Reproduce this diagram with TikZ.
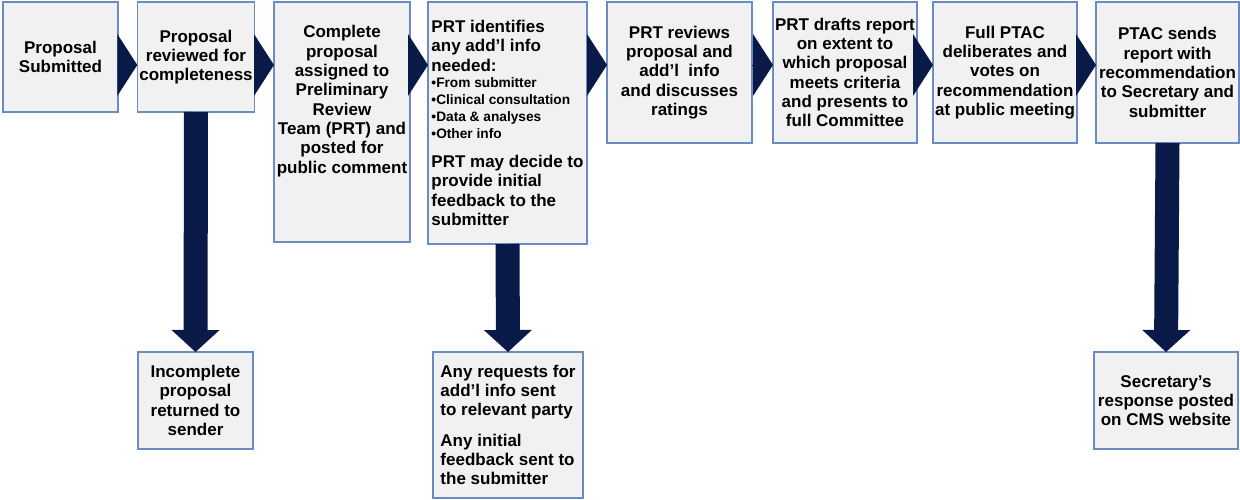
\documentclass[tikz,border=0pt]{standalone}
\usepackage{fontspec}
\setmainfont{Liberation Sans}
\usetikzlibrary{arrows.meta}
\definecolor{navy}{HTML}{0A1A48}
\definecolor{boxline}{HTML}{6A8CC0}
\definecolor{boxfill}{HTML}{F1F1F1}
\newcommand{\bul}[1]{{\fontsize{13.7}{16.7}\selectfont\textbullet#1}}
\tikzset{
  stepbox/.style={draw=boxline, fill=boxfill, line width=1.4pt, inner xsep=2pt,
    inner ysep=4pt, outer sep=0pt, align=center,
    font=\bfseries\fontsize{17}{19.3}\selectfont},
  chevron/.style={navy, line width=0.1pt,
    -{Triangle[length=20pt,width=62pt,line width'=0pt]}},
  downarrow/.style={navy, line width=24pt,
    -{Triangle[length=22pt,width=48pt,line width'=0pt]}}
}
\begin{document}
\begin{tikzpicture}[x=1pt,y=-1pt]
  \useasboundingbox (0,0) rectangle (1240,499);
  % top row
  \node[stepbox, minimum width=115pt, minimum height=110pt] (b1) at (60.5,57)
    {Proposal\\Submitted};
  \node[stepbox, minimum width=116pt, minimum height=110pt] (b2) at (196,57)
    {Proposal\\reviewed for\\completeness};
  \node[stepbox, minimum width=136pt, minimum height=240pt] (b3) at (342,122)
    {Complete\\proposal\\assigned to\\Preliminary\\Review\\Team (PRT) and\\posted for\\public comment\\[26pt]\mbox{}};
  \node[stepbox, align=left, minimum width=159pt, minimum height=242pt] (b4) at (507.5,123)
    {PRT identifies\\any add’l info\\needed:\\[-2.5pt]
     \bul{From submitter}\\[-2.5pt]
     \bul{Clinical consultation}\\[-2.5pt]
     \bul{Data \& analyses}\\[-2.5pt]
     \bul{Other info}\\[10pt]
     PRT may decide to\\provide initial\\feedback to the\\submitter};
  \node[stepbox, minimum width=145pt, minimum height=141pt] (b5) at (679.5,72.5)
    {PRT reviews\\proposal and\\add’l\ \ info\\and discusses\\ratings};
  \node[stepbox, minimum width=144pt, minimum height=141pt] (b6) at (845,72.5)
    {PRT drafts report\\on extent to\\which proposal\\meets criteria\\and presents to\\full Committee};
  \node[stepbox, minimum width=144pt, minimum height=141pt] (b7) at (1005,72.5)
    {Full PTAC\\deliberates and\\votes on\\recommendation\\at public meeting};
  \node[stepbox, minimum width=143pt, minimum height=141pt] (b8) at (1167.5,72.5)
    {PTAC sends\\report with\\recommendation\\to Secretary and\\submitter};
  % bottom row
  \node[stepbox, minimum width=115pt, minimum height=97pt] (b9) at (195.5,400.5)
    {Incomplete\\proposal\\returned to\\sender};
  \node[stepbox, align=left, minimum width=150pt, minimum height=146pt] (b10) at (508,425)
    {Any requests for\\add’l info sent\\to relevant party\\[11pt]
     Any initial\\feedback sent to\\the submitter};
  \node[stepbox, minimum width=144pt, minimum height=97pt] (b11) at (1166,400.5)
    {Secretary’s\\response posted\\on CMS website};
  % chevrons
  \draw[chevron] ([yshift=-63pt]b1.north east) -- ([yshift=-63pt]b2.north west);
  \draw[chevron] ([yshift=-63pt]b2.north east) -- ([yshift=-63pt]b3.north west);
  \draw[chevron] ([yshift=-63pt]b3.north east) -- ([yshift=-63pt]b4.north west);
  \draw[chevron] ([yshift=-63pt]b4.north east) -- ([yshift=-63pt]b5.north west);
  \draw[chevron] ([yshift=-63pt]b5.north east) -- ([yshift=-63pt]b6.north west);
  \draw[chevron] ([yshift=-63pt]b6.north east) -- ([yshift=-63pt]b7.north west);
  \draw[chevron] ([yshift=-63pt]b7.north east) -- ([yshift=-63pt]b8.north west);
  % down arrows
  \draw[downarrow] (b2.south) -- (b9.north);
  \draw[downarrow] (b4.south) -- (b10.north);
  \draw[downarrow] (b8.south) -- (b11.north);
\end{tikzpicture}
\end{document}
